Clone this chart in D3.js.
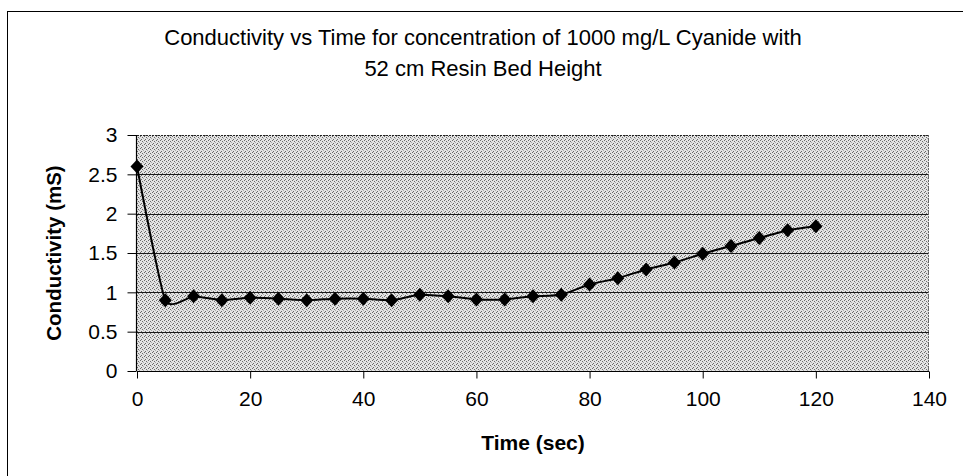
<!DOCTYPE html>
<html>
<head>
<meta charset="utf-8">
<script src="https://cdn.jsdelivr.net/npm/d3@7"></script>
<style>
  html, body { margin: 0; padding: 0; background: #fff; }
  svg { display: block; }
  text { font-family: "Liberation Sans", Arial, sans-serif; fill: #000; }
</style>
</head>
<body>
<svg id="chart" width="963" height="476"></svg>
<script>
// Measurements: time (s) and conductivity (mS)
const timeSec = [0, 5, 10, 15, 20, 25, 30, 35, 40, 45, 50, 55, 60, 65, 70, 75, 80, 85, 90, 95, 100, 105, 110, 115, 120];
const conductivity = [2.6, 0.9, 0.95, 0.9, 0.93, 0.92, 0.9, 0.92, 0.92, 0.9, 0.97, 0.95, 0.91, 0.91, 0.95, 0.97, 1.1, 1.18, 1.29, 1.38, 1.49, 1.59, 1.69, 1.79, 1.84];
const xTicks = [0, 20, 40, 60, 80, 100, 120, 140];
const yTicks = [0, 0.5, 1, 1.5, 2, 2.5, 3];
const titleLines = ["Conductivity vs Time for concentration of 1000 mg/L Cyanide with", "52 cm Resin Bed Height"];

const svg = d3.select("#chart");
const plot = { left: 137, right: 929, top: 135, bottom: 371 };

const x = d3.scaleLinear().domain([0, 140]).range([plot.left, plot.right]);
const y = d3.scaleLinear().domain([0, 3]).range([plot.bottom, plot.top]);

// Outer chart frame
svg.append("rect")
  .attr("x", 7.5).attr("y", 11.5).attr("width", 970).attr("height", 480)
  .attr("fill", "none").attr("stroke", "#000").attr("stroke-width", 1);

// Stippled grey fill for the plot area
const defs = svg.append("defs");
const pat = defs.append("pattern")
  .attr("id", "stipple").attr("patternUnits", "userSpaceOnUse")
  .attr("width", 4).attr("height", 4);
pat.append("rect").attr("width", 4).attr("height", 4).attr("fill", "#e4e4e4");
[[0, 0], [2, 1], [1, 3]].forEach(([px, py]) => {
  pat.append("rect").attr("x", px).attr("y", py).attr("width", 1).attr("height", 1).attr("fill", "#6a6a6a");
});
[[3, 2]].forEach(([px, py]) => {
  pat.append("rect").attr("x", px).attr("y", py).attr("width", 1).attr("height", 1).attr("fill", "#aaaaaa");
});

svg.append("rect")
  .attr("x", plot.left).attr("y", plot.top)
  .attr("width", plot.right - plot.left).attr("height", plot.bottom - plot.top)
  .attr("fill", "url(#stipple)");

// Horizontal gridlines
svg.append("g")
  .selectAll("line")
  .data(yTicks.filter(d => d > 0 && d < 3))
  .join("line")
  .attr("x1", plot.left).attr("x2", plot.right)
  .attr("y1", d => Math.round(y(d)) + 0.5).attr("y2", d => Math.round(y(d)) + 0.5)
  .attr("stroke", "#1a1a1a").attr("stroke-width", 1);

// Plot border: top dotted, right grey
svg.append("line")
  .attr("x1", plot.left).attr("x2", plot.right)
  .attr("y1", plot.top + 0.5).attr("y2", plot.top + 0.5)
  .attr("stroke", "#222").attr("stroke-dasharray", "2,1");
svg.append("line")
  .attr("x1", plot.right - 0.5).attr("x2", plot.right - 0.5)
  .attr("y1", plot.top).attr("y2", plot.bottom)
  .attr("stroke", "#666").attr("stroke-dasharray", "2,1");

// Axes
const xAxis = d3.axisBottom(x).tickValues(xTicks).tickSize(7).tickPadding(13).tickFormat(d3.format("d"));
const yAxis = d3.axisLeft(y).tickValues(yTicks).tickSize(9).tickPadding(10).tickFormat(d => String(d));

const gx = svg.append("g").attr("transform", `translate(0,${Math.round(plot.bottom) + 0.5})`).call(xAxis);
const gy = svg.append("g").attr("transform", `translate(${plot.left - 0.5},0)`).call(yAxis);

[gx, gy].forEach(g => {
  g.select(".domain").attr("stroke", "#000").attr("stroke-width", 1.2);
  g.selectAll(".tick line").attr("stroke", "#000");
  g.selectAll(".tick text")
    .style("font-family", '"Liberation Sans", Arial, sans-serif')
    .style("font-size", "21px").attr("fill", "#000");
});
gx.select(".domain").attr("d", `M${plot.left},0H${plot.right}`);
gy.select(".domain").attr("d", `M0,${plot.top}V${plot.bottom}`);

// Series line (smoothed) and diamond markers
const pts = timeSec.map((t, i) => [t, conductivity[i]]);
const line = d3.line()
  .x(d => x(d[0])).y(d => y(d[1]))
  .curve(d3.curveCardinal.tension(0.5));

svg.append("path")
  .datum(pts)
  .attr("d", line)
  .attr("fill", "none").attr("stroke", "#000").attr("stroke-width", 2);

svg.append("g")
  .selectAll("path")
  .data(pts)
  .join("path")
  .attr("transform", d => `translate(${x(d[0])},${y(d[1])})`)
  .attr("d", "M0,-7L6.5,0L0,7L-6.5,0Z")
  .attr("fill", "#000");

// Title
const title = svg.append("text")
  .attr("text-anchor", "middle")
  .style("font-size", "22px");
title.selectAll("tspan")
  .data(titleLines)
  .join("tspan")
  .attr("x", 483)
  .attr("y", (d, i) => 45 + i * 31)
  .text(d => d);

// Axis titles
svg.append("text")
  .attr("x", (plot.left + plot.right) / 2).attr("y", 450)
  .attr("text-anchor", "middle")
  .style("font-size", "21px").style("font-weight", "bold")
  .text("Time (sec)");

svg.append("text")
  .attr("transform", `translate(61,${(plot.top + plot.bottom) / 2}) rotate(-90)`)
  .attr("text-anchor", "middle")
  .style("font-size", "20.5px").style("font-weight", "bold")
  .text("Conductivity (mS)");
</script>
</body>
</html>
